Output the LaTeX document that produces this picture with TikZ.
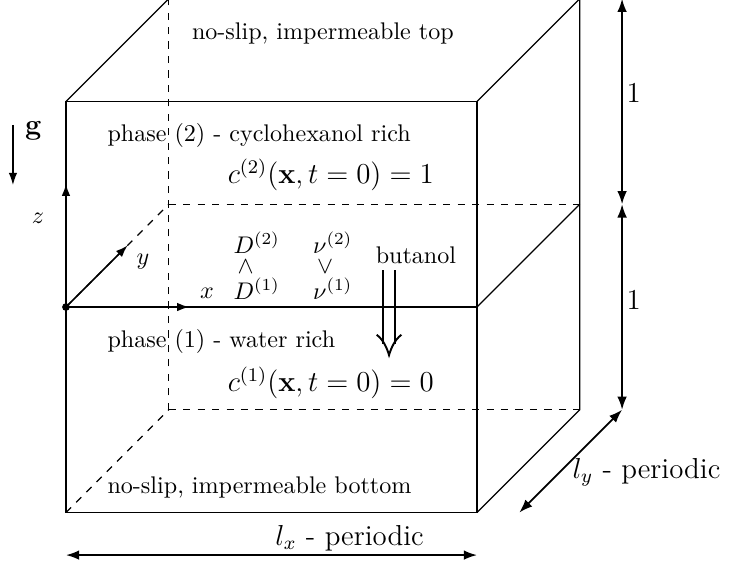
\documentclass[tikz,border=0pt]{standalone}
\usepackage{amsmath}
\usetikzlibrary{arrows.meta}
\begin{document}
\begin{tikzpicture}[x=3cm,y=3cm,
  edge/.style={line width=0.5pt},
  hidden/.style={dashed,line width=0.5pt},
  axis/.style={line width=0.7pt,-{Latex[length=5pt,width=3.5pt]}},
  dimline/.style={line width=0.7pt,{Latex[length=5.5pt,width=4pt]}-{Latex[length=5.5pt,width=4pt]}},
  txt/.style={inner sep=0pt,font=\normalsize},
  lbl/.style={inner sep=0pt,font=\large}]
\useasboundingbox (-0.321,-1.265) rectangle (3.236,1.494);
% corners
\coordinate (A) at (0,-1);
\coordinate (B) at (2,-1);
\coordinate (C) at (2,1);
\coordinate (D) at (0,1);
\coordinate (M0) at (0,0);
\coordinate (M1) at (2,0);
\coordinate (E) at (0.5,-0.5);
\coordinate (F) at (2.5,-0.5);
\coordinate (G) at (2.5,1.5);
\coordinate (H) at (0.5,1.5);
\coordinate (N0) at (0.5,0.5);
\coordinate (N1) at (2.5,0.5);
% hidden edges
\draw[hidden] (E) -- (H);
\draw[hidden] (E) -- (F);
\draw[hidden] (N0) -- (N1);
\draw[hidden] (A) -- (E);
\draw[hidden] (M0) -- (N0);
% visible edges
\draw[edge] (A) -- (B) -- (C) -- (D) -- cycle;
\draw[edge] (M0) -- (M1);
\draw[edge] (D) -- (H) -- (G) -- (C);
\draw[edge] (M1) -- (N1);
\draw[edge] (B) -- (F) -- (G);
% axes
\coordinate (Xe) at (0.6,0);
\coordinate (Ye) at (0.3,0.3);
\coordinate (Ze) at (0,0.6);
\draw[axis] (M0) -- (Xe);
\draw[axis] (M0) -- (Ye);
\draw[axis] (M0) -- (Ze);
\fill (M0) circle (1.6pt);
\node[txt] (xl) at (0.686,0.068) {$x$};
\node[txt] (yl) at (0.375,0.219) {$y$};
\node[txt] (zl) at (-0.136,0.433) {$z$};
% gravity
\coordinate (g0) at (-0.258,0.886);
\coordinate (g1) at (-0.258,0.594);
\draw[line width=0.5pt,-{Latex[length=5pt,width=3.5pt]}] (g0) -- (g1);
\node[lbl] (gl) at (-0.158,0.858) {$\mathbf{g}$};
% texts
\node[txt] (top) at (1.25,1.333) {no-slip, impermeable top};
\node[txt,anchor=west] (ph2) at (0.2,0.837) {phase (2) - cyclohexanol rich};
\node[lbl,anchor=west] (c2) at (0.785,0.642) {$c^{(2)}(\mathbf{x},t=0)=1$};
\node[txt,anchor=west] (ph1) at (0.2,-0.17) {phase (1) - water rich};
\node[lbl,anchor=west] (c1) at (0.785,-0.37) {$c^{(1)}(\mathbf{x},t=0)=0$};
\node[txt,anchor=west] (bot) at (0.2,-0.876) {no-slip, impermeable bottom};
\node[txt,anchor=north west] (ratios) at (0.813,0.368)
  {$\begin{array}{@{}l@{\hspace{13.8pt}}l@{}}
     D^{(2)} & \nu^{(2)}\\[-3.7pt]
     \,\wedge & \,\vee\\[-1.5pt]
     D^{(1)} & \nu^{(1)}
   \end{array}$};
\node[txt] (but) at (1.703,0.253) {butanol};
% butanol flux arrow
\coordinate (ba) at (1.572,0.18);
\draw[line width=0.8pt] ([xshift=-2.4pt]ba) -- ++(0,-0.36);
\draw[line width=0.8pt] ([xshift=2.4pt]ba) -- ++(0,-0.36);
\coordinate (bt) at (1.572,-0.234);
\draw[line width=0.8pt] (1.512,-0.135) .. controls (1.545,-0.16) and (1.562,-0.2) .. (bt) .. controls (1.582,-0.2) and (1.599,-0.16) .. (1.632,-0.135);
% dimensions
\coordinate (R0) at (2.706,1.5);
\coordinate (R1) at (2.706,0.5);
\coordinate (R2) at (2.706,-0.5);
\coordinate (R3) at (2.206,-1.0);
\draw[dimline] (R0) -- (R1);
\draw[dimline] (R1) -- (R2);
\draw[dimline] (R2) -- (R3);
\node[lbl] (one1) at (2.762,1.04) {1};
\node[lbl] (one2) at (2.762,0.035) {1};
\node[lbl] (ly) at (2.825,-0.803) {$l_y$ - periodic};
\coordinate (L0) at (0,-1.207);
\coordinate (L1) at (2,-1.207);
\draw[dimline] (L0) -- (L1);
\node[lbl] (lx) at (1.38,-1.124) {$l_x$ - periodic};
\end{tikzpicture}
\end{document}
